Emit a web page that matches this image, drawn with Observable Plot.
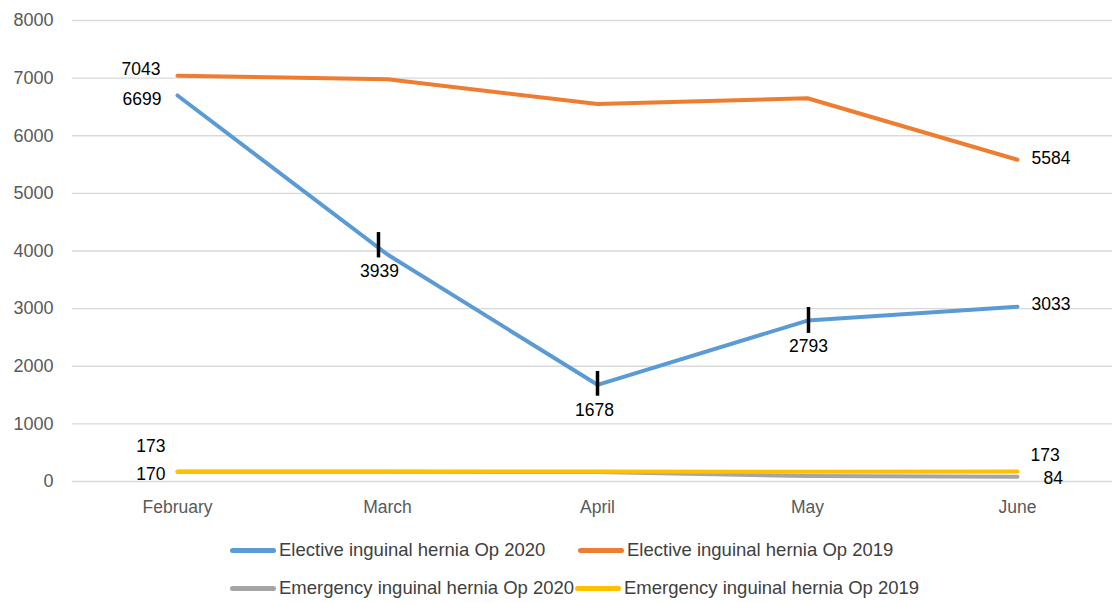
<!DOCTYPE html>
<html>
<head>
<meta charset="utf-8">
<script src="https://cdn.jsdelivr.net/npm/d3@7"></script>
<script src="https://cdn.jsdelivr.net/npm/@observablehq/plot@0.6"></script>
<style>
  body { margin: 0; background: #fff; font-family: "Liberation Sans", Arial, sans-serif; }
  #chart svg { display: block; }
  .legend { position: relative; height: 78px; width: 1112px; }
  .item { position: absolute; display: flex; align-items: center; font-size: 18.5px; color: #404040; white-space: nowrap; }
  .sw { width: 46px; height: 5px; border-radius: 3px; margin-right: 3px; }
</style>
</head>
<body>
<div id="chart"></div>
<div class="legend" id="legend"></div>
<script>
const months = ["February", "March", "April", "May", "June"];
const seriesNames = [
  "Elective inguinal hernia Op 2020",
  "Elective inguinal hernia Op 2019",
  "Emergency inguinal hernia Op 2020",
  "Emergency inguinal hernia Op 2019"
];
const elective2020 = [6699, 3939, 1678, 2793, 3033];
const elective2019 = [7043, 6980, 6550, 6650, 5584];
const emergency2020 = [170, 168, 165, 95, 84];
const emergency2019 = [173, 175, 172, 170, 173];
const colors = ["#5b9bd5", "#ed7d31", "#a5a5a5", "#ffc000"];
const yTicks = [0, 1000, 2000, 3000, 4000, 5000, 6000, 7000, 8000];
// error markers on the 2020 elective series
const errMonths = ["March", "April", "May"];
const errLow = [3880, 1480, 2570];
const errHigh = [4320, 1910, 3020];

const allSeries = [elective2020, elective2019, emergency2020, emergency2019];
const rows = [];
allSeries.forEach((vals, s) => vals.forEach((v, i) => rows.push({series: seriesNames[s], month: months[i], value: v})));
const errRows = errMonths.map((m, i) => ({month: m, lo: errLow[i], hi: errHigh[i]}));
const errDx = [-9, 0, 1];

// labels: [seriesIndex, monthIndex, anchor, dx, dy]
const labelSpecs = [
  [1, 0, "end", -17, -6],
  [0, 0, "end", -16, 4],
  [0, 1, "middle", -8, 17],
  [0, 2, "middle", -3, 26],
  [0, 3, "middle", 1, 26],
  [0, 4, "start", 14, -2],
  [1, 4, "start", 14, -1],
  [3, 0, "end", -12, -25],
  [2, 0, "end", -12, 3],
  [3, 4, "start", 13, -16],
  [2, 4, "start", 26, 2]
];
const labelMarks = labelSpecs.map(([s, i, anchor, dx, dy]) =>
  Plot.text([{month: months[i], value: allSeries[s][i]}], {
    x: "month", y: "value", text: d => String(d.value),
    textAnchor: anchor, dx, dy, fill: "#000", fontSize: 17.5
  })
);
const errMarks = errRows.map((r, i) =>
  Plot.ruleX([r], {x: "month", y1: "lo", y2: "hi", stroke: "#000", strokeWidth: 3.5, dx: errDx[i]})
);

const chart = Plot.plot({
  width: 1112,
  height: 525,
  marginLeft: 72,
  marginRight: -10,
  marginTop: 20,
  marginBottom: 44,
  style: {fontFamily: "Liberation Sans, Arial, sans-serif", fontSize: "17px", color: "#595959"},
  x: {type: "point", domain: months, padding: 0.5, label: null},
  y: {domain: [0, 8000], label: null},
  color: {domain: seriesNames, range: colors},
  marks: [
    Plot.ruleY(yTicks, {stroke: "#d9d9d9", strokeWidth: 1.3}),
    Plot.axisY(yTicks, {tickSize: 0, tickPadding: 19, fill: "#595959", fontSize: 18, label: null, tickFormat: d => String(d)}),
    Plot.axisX(months, {tickSize: 0, tickPadding: 19, fill: "#595959", fontSize: 17.5, label: null}),
    Plot.line(rows, {x: "month", y: "value", z: "series", stroke: "series", strokeWidth: 4, strokeLinejoin: "round", strokeLinecap: "round"}),
    ...errMarks,
    ...labelMarks
  ]
});
document.getElementById("chart").append(chart);

const legend = document.getElementById("legend");
const pos = [[230, 551], [578, 551], [230, 589], [575, 589]];
seriesNames.forEach((n, i) => {
  const el = document.createElement("div");
  el.className = "item";
  el.style.left = pos[i][0] + "px";
  el.style.top = (pos[i][1] - 525 - 12) + "px";
  el.innerHTML = `<span class="sw" style="background:${colors[i]}"></span><span>${n}</span>`;
  legend.append(el);
});
</script>
</body>
</html>
